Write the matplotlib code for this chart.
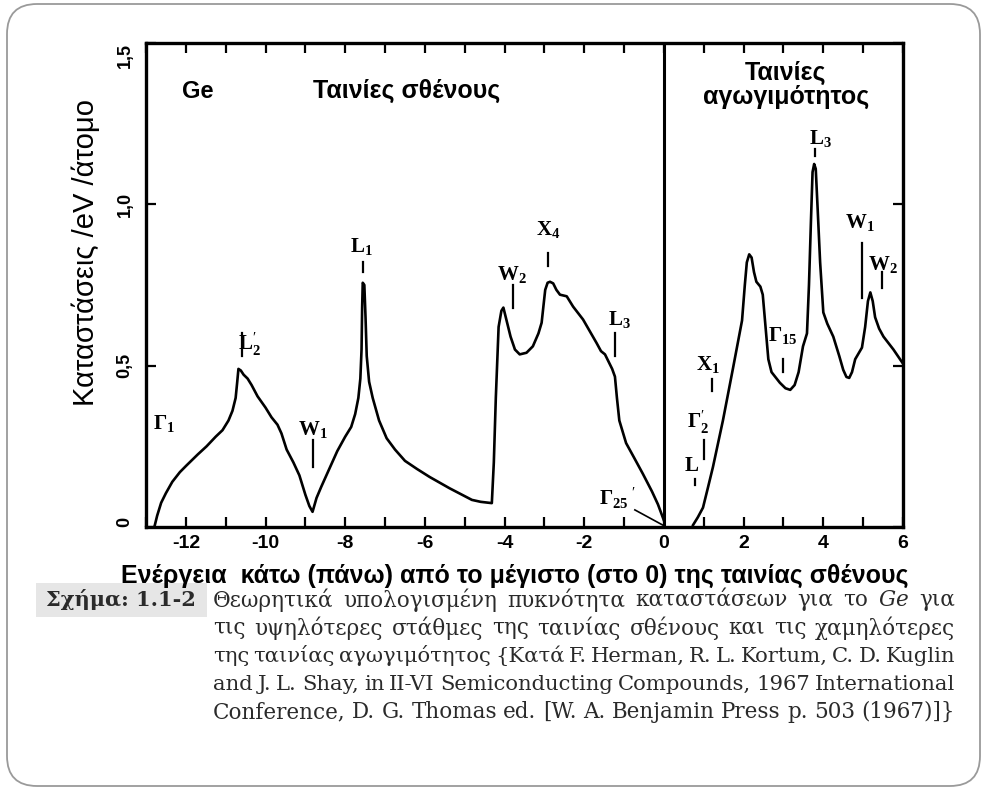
import matplotlib
matplotlib.use('Agg')
import matplotlib.pyplot as plt
from matplotlib.patches import FancyBboxPatch, Rectangle
from matplotlib.transforms import IdentityTransform
from matplotlib.ticker import MultipleLocator

plt.rcParams['font.family'] = ['Liberation Sans', 'DejaVu Sans']
plt.rcParams['axes.unicode_minus'] = False
plt.rcParams['mathtext.fontset'] = 'custom'
plt.rcParams['mathtext.rm'] = 'Liberation Serif'
plt.rcParams['mathtext.bf'] = 'Liberation Serif:bold'
plt.rcParams['mathtext.it'] = 'DejaVu Serif:italic'

# valence band density of states (energy in eV, states/eV/atom)
valence_e = [-12.79, -12.72, -12.62, -12.5, -12.34, -12.15, -11.99, -11.7, -11.48, -11.25,
             -11.08, -10.93, -10.83, -10.75, -10.71, -10.68, -10.62, -10.55, -10.45, -10.35,
             -10.2, -10.0, -9.85, -9.70, -9.6, -9.47, -9.3, -9.15, -9.0, -8.9,
             -8.82, -8.72, -8.6, -8.4, -8.2, -8.0, -7.85, -7.75, -7.67, -7.62,
             -7.59, -7.575, -7.56, -7.52, -7.49, -7.46, -7.40, -7.31, -7.15, -6.96,
             -6.75, -6.5, -6.2, -5.88, -5.38, -4.82, -4.6, -4.32, -4.27, -4.22,
             -4.15, -4.08, -4.03, -3.95, -3.85, -3.74, -3.62, -3.45, -3.29, -3.15,
             -3.07, -3.02, -2.98, -2.92, -2.86, -2.78, -2.70, -2.61, -2.44, -2.28,
             -2.03, -1.69, -1.58, -1.48, -1.3, -1.23, -1.18, -1.12, -0.95, -0.75,
             -0.53, -0.3, -0.15, 0.0]
valence_dos = [0.0, 0.035, 0.075, 0.105, 0.14, 0.17, 0.19, 0.225, 0.25, 0.28,
               0.30, 0.33, 0.36, 0.40, 0.45, 0.49, 0.485, 0.472, 0.46, 0.44,
               0.405, 0.37, 0.34, 0.317, 0.29, 0.24, 0.20, 0.16, 0.10, 0.065,
               0.047, 0.09, 0.125, 0.18, 0.235, 0.28, 0.31, 0.35, 0.40, 0.46,
               0.55, 0.68, 0.757, 0.75, 0.65, 0.53, 0.45, 0.40, 0.33, 0.275,
               0.24, 0.205, 0.18, 0.155, 0.12, 0.084, 0.078, 0.074, 0.20, 0.40,
               0.62, 0.67, 0.68, 0.64, 0.59, 0.55, 0.535, 0.54, 0.56, 0.60,
               0.633, 0.69, 0.735, 0.757, 0.76, 0.755, 0.735, 0.72, 0.715, 0.683,
               0.643, 0.57, 0.545, 0.535, 0.49, 0.466, 0.40, 0.33, 0.26, 0.215,
               0.165, 0.11, 0.07, 0.02]

# conduction band density of states
cond_e = [0.73, 0.85, 0.98, 1.1, 1.23, 1.48, 1.73, 1.96, 2.03, 2.08,
          2.14, 2.2, 2.26, 2.32, 2.42, 2.48, 2.55, 2.62, 2.7, 2.91,
          3.05, 3.17, 3.28, 3.38, 3.49, 3.59, 3.64, 3.69, 3.73, 3.77,
          3.81, 3.86, 3.92, 4.0, 4.1, 4.25, 4.4, 4.50, 4.58, 4.65,
          4.72, 4.80, 4.97, 5.05, 5.12, 5.18, 5.24, 5.30, 5.40, 5.51,
          5.76, 5.98]
cond_dos = [0.006, 0.03, 0.06, 0.12, 0.186, 0.33, 0.49, 0.64, 0.75, 0.82,
            0.845, 0.835, 0.79, 0.76, 0.745, 0.72, 0.62, 0.52, 0.48, 0.447,
            0.43, 0.425, 0.44, 0.48, 0.56, 0.60, 0.75, 0.95, 1.10, 1.125,
            1.11, 0.98, 0.82, 0.665, 0.63, 0.59, 0.53, 0.487, 0.465, 0.462,
            0.48, 0.52, 0.556, 0.62, 0.70, 0.727, 0.70, 0.65, 0.615, 0.59,
            0.55, 0.51]

# critical point names, where the name sits and the little marker line under it
point_names = [r'$\mathbf{Γ}_{\mathbf{1}}$', r"$\mathbf{L}_{\mathbf{2}}^{\prime}$",
               r'$\mathbf{W}_{\mathbf{1}}$', r'$\mathbf{L}_{\mathbf{1}}$',
               r'$\mathbf{W}_{\mathbf{2}}$', r'$\mathbf{X}_{\mathbf{4}}$',
               r'$\mathbf{L}_{\mathbf{3}}$', r"$\mathbf{Γ}_{\mathbf{25}}\,^{\prime}$",
               r'$\mathbf{X}_{\mathbf{1}}$', r"$\mathbf{Γ}_{\mathbf{2}}^{\prime}$",
               r'$\mathbf{L}$', r'$\mathbf{Γ}_{\mathbf{15}}$',
               r'$\mathbf{L}_{\mathbf{3}}$', r'$\mathbf{W}_{\mathbf{1}}$',
               r'$\mathbf{W}_{\mathbf{2}}$']
name_x = [-12.54, -10.40, -8.82, -7.59, -3.82, -2.91, -1.11, -1.18,
          1.11, 0.85, 0.70, 2.99, 3.92, 4.92, 5.50]
name_y = [0.317, 0.565, 0.30, 0.866, 0.78, 0.92, 0.64, 0.09,
          0.50, 0.326, 0.19, 0.59, 1.20, 0.94, 0.81]
mark_x = [-10.60, -8.82, -7.56, -3.79, -2.91, -1.23, 1.21, 1.00, 0.78, 3.00, 3.79, 4.97, 5.48]
mark_top = [0.60, 0.27, 0.82, 0.75, 0.85, 0.60, 0.46, 0.27, 0.15, 0.52, 1.17, 0.88, 0.79]
mark_bot = [0.53, 0.186, 0.79, 0.68, 0.81, 0.53, 0.42, 0.21, 0.13, 0.48, 1.15, 0.71, 0.74]

y_ticks = [0, 0.5, 1.0, 1.5]
y_tick_labels = ['0', '0,5', '1,0', '1,5']
x_ticks = [-12, -10, -8, -6, -4, -2, 0, 2, 4, 6]

caption_tag = 'Σχήμα: 1.1-2'
caption_lines = [
    r'Θεωρητικά υπολογισμένη πυκνότητα καταστάσεων για το $\mathit{Ge}$ για',
    'τις υψηλότερες στάθμες της ταινίας σθένους και τις χαμηλότερες',
    'της ταινίας αγωγιμότητος {Κατά F. Herman, R. L. Kortum, C. D. Kuglin',
    'and J. L. Shay, in II-VI Semiconducting Compounds, 1967 International',
    'Conference, D. G. Thomas ed. [W. A. Benjamin Press p. 503 (1967)]}',
]

W, H = 987, 789
fig = plt.figure(figsize=(W / 100, H / 100), dpi=100)
ax = fig.add_axes([146 / W, 1 - 527 / H, (903 - 146) / W, (527 - 43) / H])

ax.plot(valence_e, valence_dos, color='black', lw=1.9, solid_joinstyle='round')
ax.plot(cond_e, cond_dos, color='black', lw=1.9, solid_joinstyle='round')
ax.axvline(0, color='black', lw=2.2)

for t, x, y in zip(point_names, name_x, name_y):
    ax.text(x, y, t, ha='center', va='center', fontsize=15)
for x, y0, y1 in zip(mark_x, mark_top, mark_bot):
    ax.plot([x, x], [y0, y1], color='black', lw=1.6)
ax.plot([-0.73, -0.03], [0.053, 0.006], color='black', lw=1.2)

ax.text(-11.7, 1.35, 'Ge', fontsize=17, fontweight='bold', ha='center', va='center')
ax.text(-6.45, 1.35, 'Ταινίες σθένους', fontsize=18, fontweight='bold', ha='center', va='center')
ax.text(3.06, 1.37, 'Ταινίες\nαγωγιμότητος', fontsize=18, fontweight='bold',
        ha='center', va='center', linespacing=1.0)

ax.set_xlim(-13, 6)
ax.set_ylim(0, 1.5)
ax.set_xticks(x_ticks)
ax.xaxis.set_minor_locator(MultipleLocator(1))
ax.set_yticks(y_ticks)
ax.set_yticklabels(y_tick_labels, rotation=90, fontsize=13, fontweight='bold')
for lab in ax.get_xticklabels():
    lab.set_fontweight('bold')
    lab.set_fontsize(14)
ylabs = ax.get_yticklabels()
ylabs[0].set_va('bottom')
ylabs[-1].set_va('top')
for lab in ylabs[1:-1]:
    lab.set_va('center')
ax.tick_params(axis='both', which='both', direction='in', top=True, right=True,
               length=7, width=1.6)
ax.tick_params(axis='x', pad=6)
ax.tick_params(axis='y', pad=9)
for s in ax.spines.values():
    s.set_linewidth(2.4)

fig.text(86 / W, 1 - 252 / H, 'Καταστάσεις /eV /άτομο', rotation=90,
         ha='center', va='center', fontsize=21)
fig.text(515 / W, 1 - 576 / H,
         'Ενέργεια  κάτω (πάνω) από το μέγιστο (στο 0) της ταινίας σθένους',
         ha='center', va='center', fontsize=18, fontweight='bold')

# outer frame and caption
frame = FancyBboxPatch((7, 3), 973, 782, boxstyle='round,pad=0,rounding_size=30',
                       transform=IdentityTransform(), fill=False,
                       edgecolor='#9a9a9a', lw=1.3)
fig.add_artist(frame)
fig.add_artist(Rectangle((36, H - 617), 171, 34, transform=IdentityTransform(),
                         facecolor='#e6e6e6', edgecolor='none'))
fig.text(121 / W, 1 - 600 / H, caption_tag, ha='center', va='center', fontsize=15,
         fontweight='bold', family='DejaVu Serif', color='#2a2a2a')

# justified caption, shrinking a line a little when it would not fit
renderer = fig.canvas.get_renderer()
left, right = 213, 955
for i, line in enumerate(caption_lines):
    y = 1 - (600 + 28 * i) / H
    words = line.split(' ')
    texts = [fig.text(0, y, w, ha='left', va='center', fontsize=15.5,
                      family='DejaVu Serif', color='#2a2a2a') for w in words]
    size = 15.5
    while True:
        widths = [t.get_window_extent(renderer).width for t in texts]
        gap = (right - left - sum(widths)) / max(len(words) - 1, 1)
        if gap >= 4 or size < 11:
            break
        size -= 0.25
        for t in texts:
            t.set_fontsize(size)
    x = left
    for t, wd in zip(texts, widths):
        t.set_x(x / W)
        x += wd + gap

fig.savefig('out.png', dpi=100)
